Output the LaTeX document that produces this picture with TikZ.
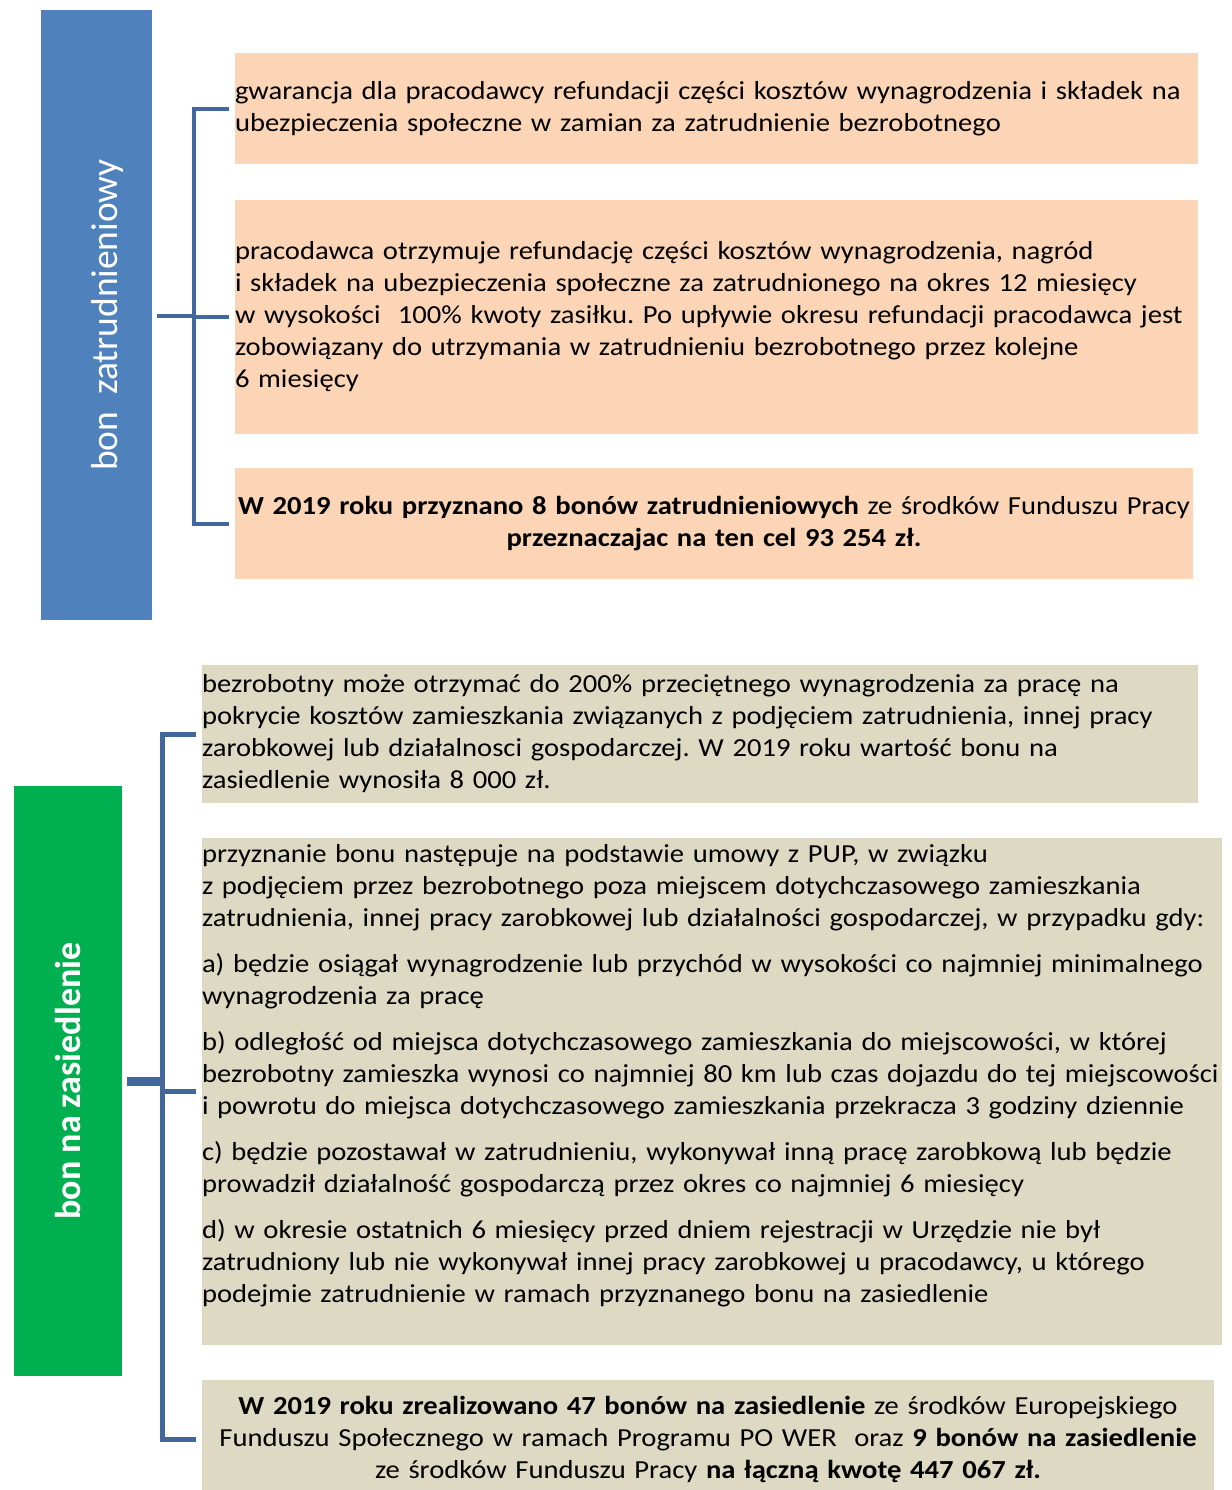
\documentclass[tikz,border=0pt]{standalone}
\usepackage{fontspec}
\setmainfont{Carlito}
\newfontfamily\cardfont[FakeStretch=1.1]{Carlito}
\usetikzlibrary{positioning}
\definecolor{zatrblue}{RGB}{79,129,189}
\definecolor{zasigreen}{RGB}{0,176,80}
\definecolor{bracketblue}{RGB}{64,104,156}
\definecolor{cardpeach}{RGB}{251,213,181}
\definecolor{cardtan}{RGB}{221,217,195}
\newcommand\cardleft{\raggedright\rightskip=0pt plus 1fil minus 40pt\parfillskip=0pt plus 1fil\parindent=0pt\parskip=0pt\frenchspacing\relax}
\newcommand\cardcenter{\centering\leftskip=0pt plus 1fil minus 20pt\rightskip=0pt plus 1fil minus 20pt\parfillskip=0pt\parindent=0pt\parskip=0pt\frenchspacing\relax}
\tikzset{
  labelbox/.style={rectangle,inner sep=0pt,outer sep=0pt},
  labeltext/.style={inner sep=0pt,text=white,font=\fontsize{37.5}{40}\selectfont},
  card/.style={rectangle,inner sep=0pt,outer sep=0pt,anchor=center,font=\cardfont\fontsize{26}{32}\selectfont},
  bracket/.style={draw=bracketblue,line width=4pt}
}
\begin{document}
\begin{tikzpicture}[x=1pt,y=-1pt]
\pgfmathsetmacro{\kgap}{6}
\pgfmathsetmacro{\kstub}{5}
\useasboundingbox (0,0) rectangle (1231,1490);
\node[labelbox,fill=zatrblue,minimum width=111,minimum height=610] (zatr) at (96.5,315) {};
\node[labeltext,rotate=90,anchor=base] (zatrlab) at (117,315) {bon\ \ zatrudnieniowy};
\node[card,fill=cardpeach,minimum width=963,minimum height=111,text width=963pt] (gwar) at (716.5,109) {\cardleft
gwarancja dla pracodawcy refundacji części kosztów wynagrodzenia i składek na\par
ubezpieczenia społeczne w zamian za zatrudnienie bezrobotnego\par};
\node[card,fill=cardpeach,minimum width=963,minimum height=234,text width=963pt] (refu) at (716.5,317) {\cardleft
pracodawca otrzymuje refundację części kosztów wynagrodzenia, nagród\par
i składek na ubezpieczenia społeczne za zatrudnionego na okres 12 miesięcy\par
w wysokości \ 100\% kwoty zasiłku. Po upływie okresu refundacji pracodawca jest\par
zobowiązany do utrzymania w zatrudnieniu bezrobotnego przez kolejne\par
6 miesięcy\par};
\node[card,fill=cardpeach,minimum width=958,minimum height=111,text width=958pt] (przy) at (714,523.5) {\cardcenter
\textbf{W 2019 roku przyznano 8 bonów zatrudnieniowych} ze środków Funduszu Pracy\par
\textbf{przeznaczajac na ten cel 93 254 zł.}\par};
\coordinate (zatrhub) at (193.5,316);
\draw[bracket] ([xshift=\kstub pt]zatr.east |- zatrhub) -- (zatrhub);
\foreach \b in {gwar,refu,przy}{\draw[bracket] (zatrhub) |- ([xshift=-\kgap pt]\b.west);}
\node[labelbox,fill=zasigreen,minimum width=108,minimum height=590] (zasi) at (68,1081) {};
\node[labeltext,rotate=90,anchor=base,font=\fontsize{36}{40}\selectfont\bfseries] (zasilab) at (80,1081) {bon na zasiedlenie};
\node[card,fill=cardtan,minimum width=996,minimum height=138,text width=996pt] (bezr) at (700,734) {\cardleft
bezrobotny może otrzymać do 200\% przeciętnego wynagrodzenia za pracę na\par
pokrycie kosztów zamieszkania związanych z podjęciem zatrudnienia, innej pracy\par
zarobkowej lub działalnosci gospodarczej. W 2019 roku wartość bonu na\par
zasiedlenie wynosiła 8 000 zł.\par};
\node[card,fill=cardtan,minimum width=1020,minimum height=507,text width=1020pt] (umow) at (712,1091.5) {\cardleft
przyznanie bonu następuje na podstawie umowy z PUP, w związku\par
z podjęciem przez bezrobotnego poza miejscem dotychczasowego zamieszkania\par
zatrudnienia, innej pracy zarobkowej lub działalności gospodarczej, w przypadku gdy:\par\vspace{14pt}
a) będzie osiągał wynagrodzenie lub przychód w wysokości co najmniej minimalnego\par
wynagrodzenia za pracę\par\vspace{14pt}
b) odległość od miejsca dotychczasowego zamieszkania do miejscowości, w której\par
bezrobotny zamieszka wynosi co najmniej 80 km lub czas dojazdu do tej miejscowości\par
i powrotu do miejsca dotychczasowego zamieszkania przekracza 3 godziny dziennie\par\vspace{14pt}
c) będzie pozostawał w zatrudnieniu, wykonywał inną pracę zarobkową lub będzie\par
prowadził działalność gospodarczą przez okres co najmniej 6 miesięcy\par\vspace{14pt}
d) w okresie ostatnich 6 miesięcy przed dniem rejestracji w Urzędzie nie był\par
zatrudniony lub nie wykonywał innej pracy zarobkowej u pracodawcy, u którego\par
podejmie zatrudnienie w ramach przyznanego bonu na zasiedlenie\rule[-36pt]{0pt}{1pt}\par};
\node[card,fill=cardtan,minimum width=1012,minimum height=119,text width=1012pt] (zrea) at (708,1439.5) {\cardcenter
\textbf{W 2019 roku zrealizowano 47 bonów na zasiedlenie} ze środków Europejskiego\par
Funduszu Społecznego w ramach Programu PO WER \ oraz \textbf{9 bonów na zasiedlenie}\par
ze środków Funduszu Pracy \textbf{na łączną kwotę 447 067 zł.}\par};
\coordinate (zasihub) at (162.5,1081);
\draw[bracket,line width=9pt] ([xshift=\kstub pt]zasi.east) -- (zasihub);
\foreach \b in {bezr,umow,zrea}{\draw[bracket,line width=5pt] (zasihub) |- ([xshift=-\kgap pt]\b.west);}
\end{tikzpicture}
\end{document}
